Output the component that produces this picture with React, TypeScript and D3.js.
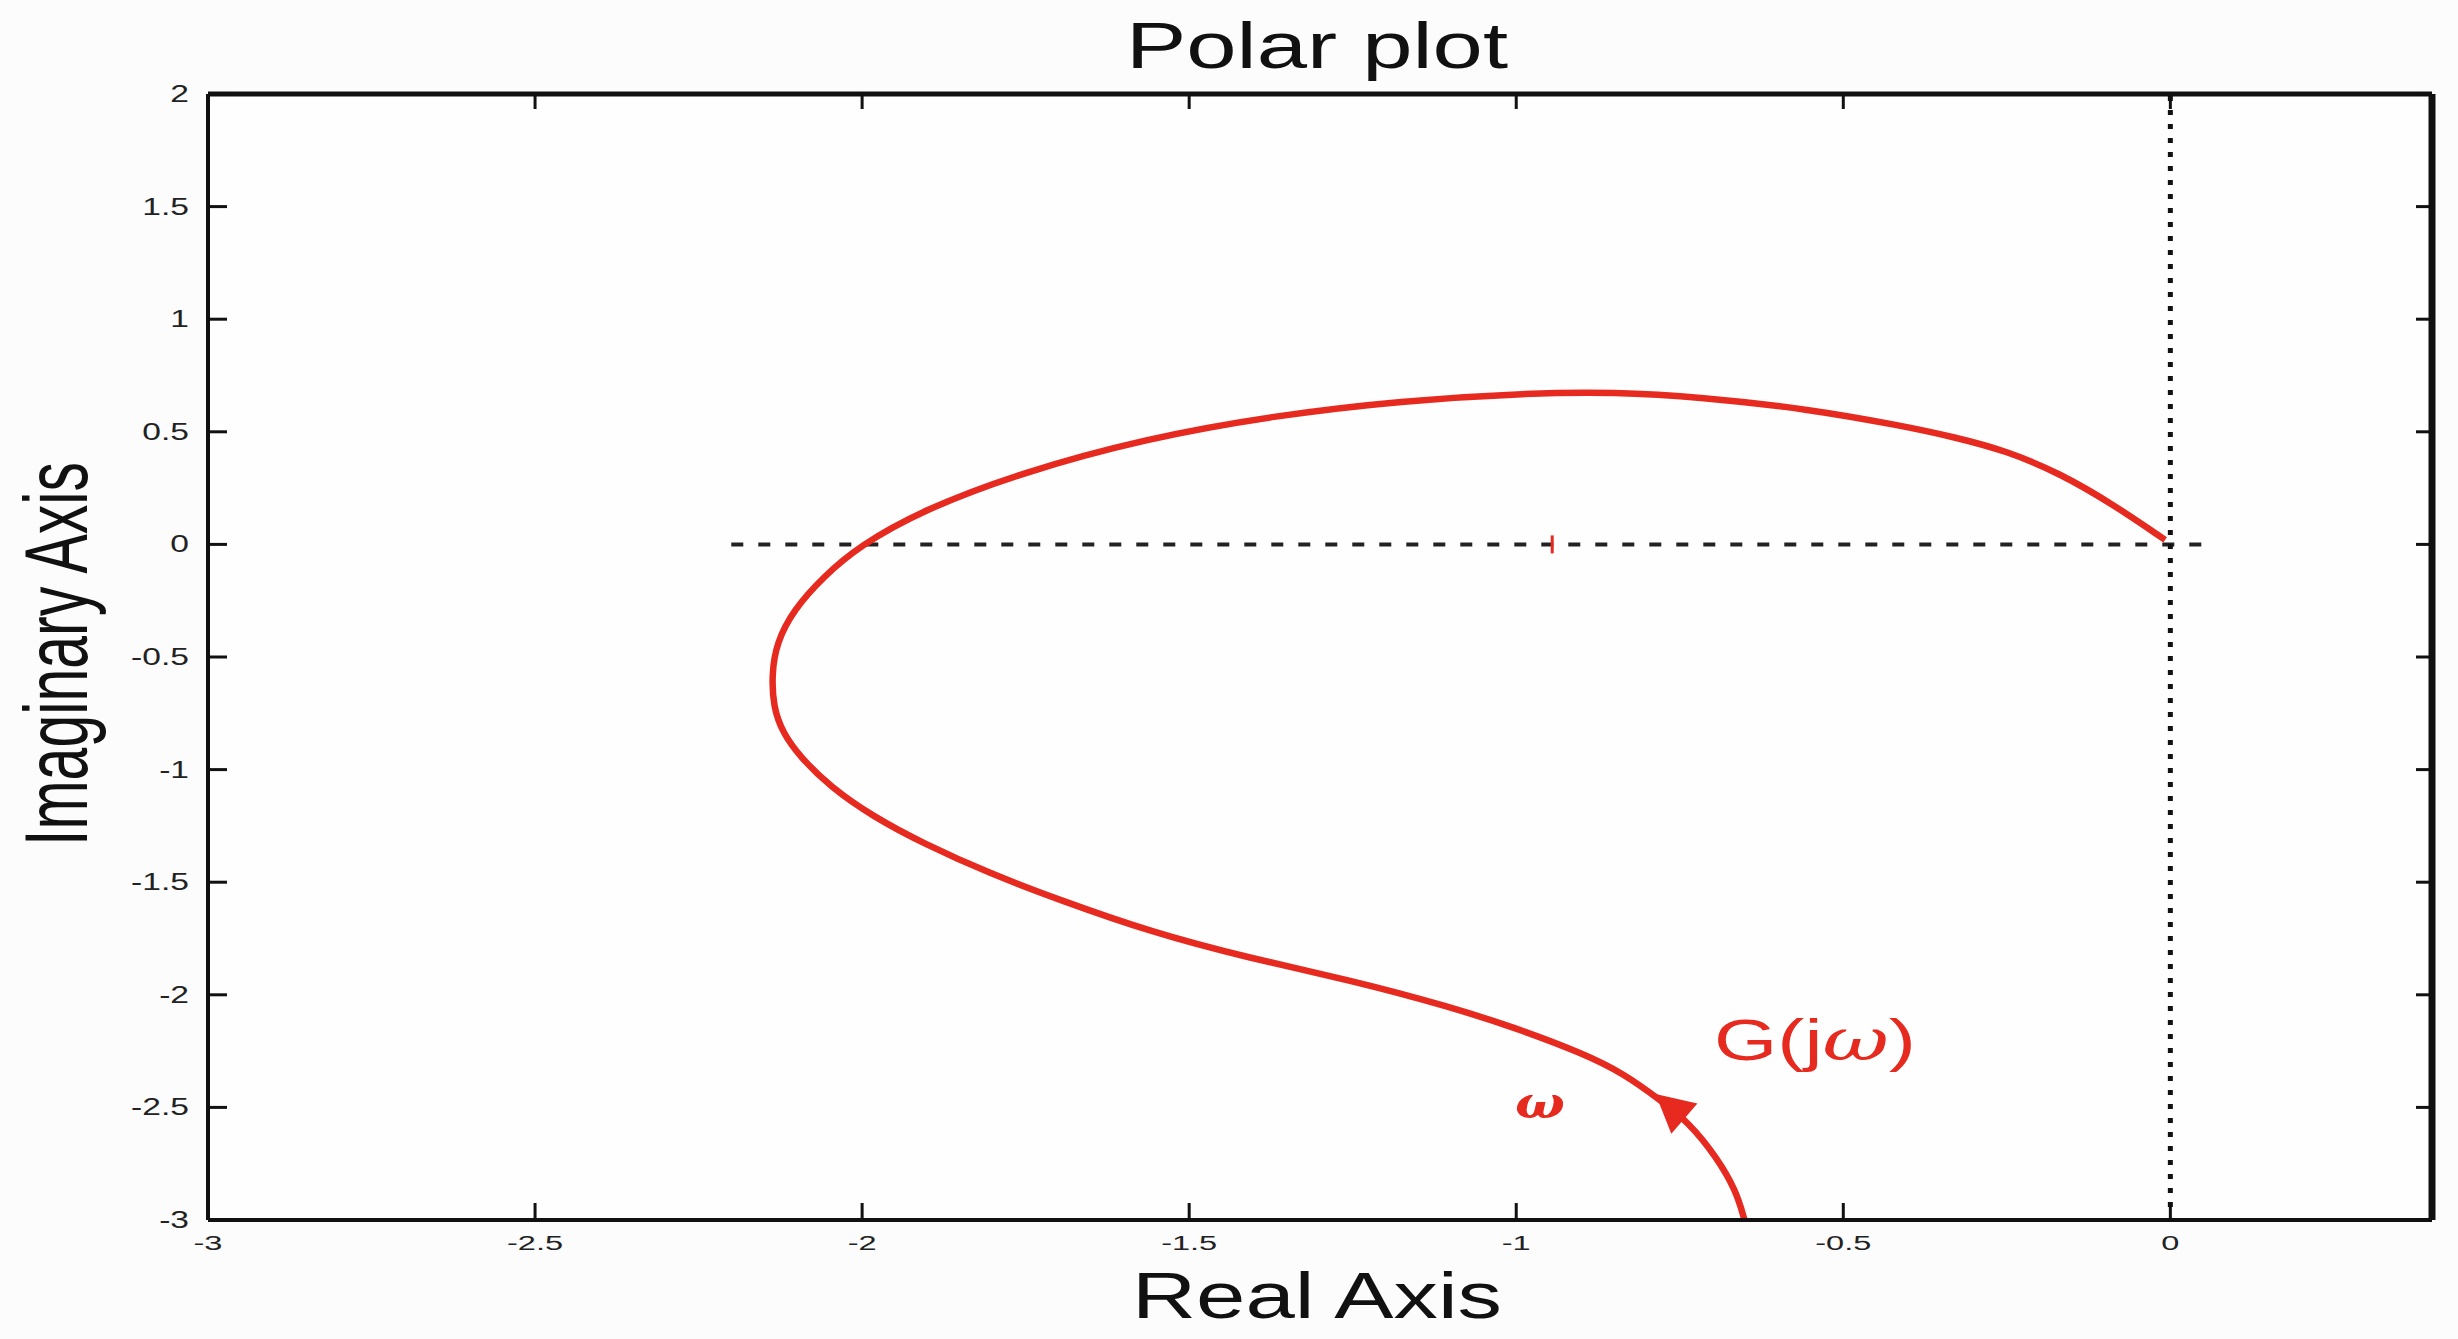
import React from 'react';
import * as d3 from 'd3';

// G(jw), ordered by increasing w (bottom -> origin)
const realPart = [-0.651, -0.664, -0.694, -0.735, -0.78, -0.836, -0.898, -0.999, -1.101, -1.254, -1.407, -1.56, -1.698, -1.805, -1.907, -1.983, -2.049, -2.095, -2.121, -2.136, -2.138, -2.131, -2.105, -2.059, -2.004, -1.907, -1.76, -1.566, -1.37, -1.176, -0.981, -0.85, -0.72, -0.55, -0.413, -0.332, -0.25, -0.169, -0.087, -0.008];
const imagPart = [-3.0, -2.868, -2.72, -2.57, -2.467, -2.349, -2.26, -2.149, -2.053, -1.934, -1.838, -1.72, -1.579, -1.461, -1.327, -1.209, -1.076, -0.943, -0.839, -0.721, -0.572, -0.439, -0.291, -0.143, -0.006, 0.153, 0.316, 0.471, 0.572, 0.638, 0.672, 0.676, 0.655, 0.6, 0.528, 0.478, 0.415, 0.316, 0.177, 0.02];

const xTicks = [-3, -2.5, -2, -1.5, -1, -0.5, 0];
const xTickLabels = ['-3', '-2.5', '-2', '-1.5', '-1', '-0.5', '0'];
const yTicks = [2, 1.5, 1, 0.5, 0, -0.5, -1, -1.5, -2, -2.5, -3];
const yTickLabels = ['2', '1.5', '1', '0.5', '0', '-0.5', '-1', '-1.5', '-2', '-2.5', '-3'];

// real-axis guide and the little marker on it
const guideRe = [-2.2, 0.05];
const markerRe = -0.945;

// arrow sits on the curve, pointing along increasing w
const arrowTip = [-0.787, -2.44];
const arrowTail = [-0.735, -2.57];

const W = 2458;
const H = 1339;
const RED = '#e62a1f';
const FONT = '"Liberation Sans", Arial, sans-serif';

export default function App() {
  // plot box
  const left = 208, right = 2432, top = 94, bottom = 1220;

  const x = d3.scaleLinear().domain([-3, 0.4]).range([left, right]);
  const y = d3.scaleLinear().domain([-3, 2]).range([bottom, top]);

  const pts: [number, number][] = realPart.map((r, i) => [r, imagPart[i]]);
  // basis smooths out the wobble of hand-read points
  const line = d3.line<[number, number]>()
    .x(d => x(d[0]))
    .y(d => y(d[1]))
    .curve(d3.curveBasis);

  // arrow head
  const tx = x(arrowTip[0]), ty = y(arrowTip[1]);
  const fx = x(arrowTail[0]), fy = y(arrowTail[1]);
  const len = Math.hypot(tx - fx, ty - fy);
  const ux = (tx - fx) / len, uy = (ty - fy) / len;
  const headLen = 38, headHalf = 20;
  const bx = tx - ux * headLen, by = ty - uy * headLen;
  const arrow = `M${tx},${ty} L${bx - uy * headHalf},${by + ux * headHalf} L${bx + uy * headHalf},${by - ux * headHalf} Z`;

  return (
    <svg width={W} height={H} style={{ position: 'absolute', left: 0, top: 0, background: '#fcfcfc' }}>
      <rect x={left} y={top} width={right - left} height={bottom - top} fill="#fefefe" />

      {/* guides */}
      <line x1={x(guideRe[0])} x2={x(guideRe[1])} y1={y(0)} y2={y(0)}
        stroke="#222" strokeWidth={4} strokeDasharray="12 15" />
      <line x1={x(0)} x2={x(0)} y1={top + 2} y2={bottom - 4}
        stroke="#111" strokeWidth={5} strokeDasharray="5 9" />

      {/* curve */}
      <path d={line(pts) || ''} fill="none" stroke={RED} strokeWidth={6.5} strokeLinejoin="round" />
      <line x1={x(markerRe)} x2={x(markerRe)} y1={y(0) - 9} y2={y(0) + 9} stroke={RED} strokeWidth={3} />
      <path d={arrow} fill={RED} />

      {/* frame */}
      <g stroke="#111" fill="none">
        <line x1={left} x2={right} y1={top} y2={top} strokeWidth={5} />
        <line x1={left} x2={right} y1={bottom} y2={bottom} strokeWidth={4} />
        <line x1={left} x2={left} y1={top} y2={bottom} strokeWidth={4} />
        <line x1={right} x2={right} y1={top} y2={bottom} strokeWidth={7} />
      </g>

      {/* ticks */}
      <g stroke="#111" strokeWidth={3}>
        {xTicks.map(t => (
          <g key={'xt' + t}>
            <line x1={x(t)} x2={x(t)} y1={bottom} y2={bottom - 17} />
            <line x1={x(t)} x2={x(t)} y1={top} y2={top + 15} />
          </g>
        ))}
        {yTicks.map(t => (
          <g key={'yt' + t}>
            <line x1={left} x2={left + 19} y1={y(t)} y2={y(t)} />
            <line x1={right} x2={right - 16} y1={y(t)} y2={y(t)} />
          </g>
        ))}
      </g>

      {/* tick labels */}
      <g fontFamily={FONT} fill="#222">
        {xTicks.map((t, i) => (
          <text key={'xl' + t} transform={`translate(${x(t)},${bottom + 30}) scale(1.55,1)`}
            textAnchor="middle" fontSize={21}>{xTickLabels[i]}</text>
        ))}
        {yTicks.map((t, i) => (
          <text key={'yl' + t} transform={`translate(189,${y(t) + 8}) scale(1.4,1)`}
            textAnchor="end" fontSize={24}>{yTickLabels[i]}</text>
        ))}
      </g>

      {/* titles */}
      <text x={1317} y={68} textAnchor="middle" fontFamily={FONT} fontSize={64}
        textLength={382} lengthAdjust="spacingAndGlyphs" fill="#111">Polar plot</text>
      <text x={1317} y={1318} textAnchor="middle" fontFamily={FONT} fontSize={65}
        textLength={370} lengthAdjust="spacingAndGlyphs" fill="#111">Real Axis</text>
      <text transform="translate(87,654) rotate(-90)" textAnchor="middle" fontFamily={FONT} fontSize={89}
        textLength={384} lengthAdjust="spacingAndGlyphs" fill="#111">Imaginary Axis</text>

      {/* annotations */}
      <text x={1714} y={1060} fontFamily={FONT} fontSize={58} fill={RED}
        textLength={202} lengthAdjust="spacingAndGlyphs">
        G(j<tspan fontFamily='"DejaVu Serif", serif' fontStyle="italic">ω</tspan>)
      </text>
      <text x={1515} y={1118} fontFamily='"DejaVu Serif", serif' fontStyle="italic" fontWeight="bold"
        fontSize={44} fill={RED} textLength={50} lengthAdjust="spacingAndGlyphs">ω</text>
    </svg>
  );
}
